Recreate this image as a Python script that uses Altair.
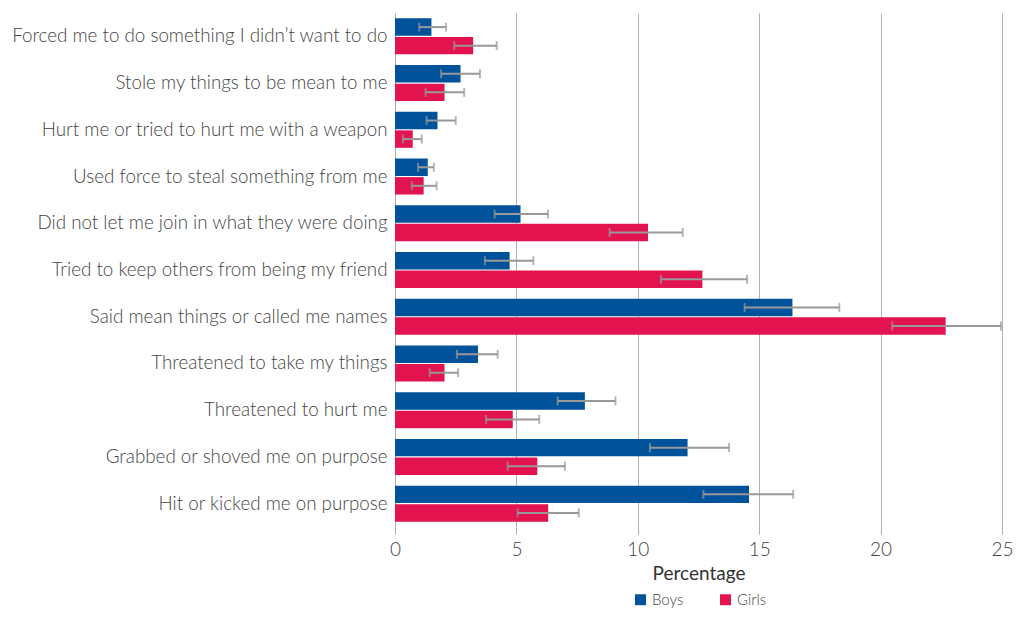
import altair as alt
import pandas as pd

categories = [
    "Forced me to do something I didn’t want to do",
    "Stole my things to be mean to me",
    "Hurt me or tried to hurt me with a weapon",
    "Used force to steal something from me",
    "Did not let me join in what they were doing",
    "Tried to keep others from being my friend",
    "Said mean things or called me names",
    "Threatened to take my things",
    "Threatened to hurt me",
    "Grabbed or shoved me on purpose",
    "Hit or kicked me on purpose",
]
groups = ["Boys", "Girls"]

boys = [1.5, 2.7, 1.75, 1.35, 5.17, 4.72, 16.37, 3.42, 7.82, 12.05, 14.58]
boys_lo = [1.0, 1.9, 1.3, 0.95, 4.1, 3.7, 14.4, 2.55, 6.7, 10.5, 12.7]
boys_hi = [2.1, 3.5, 2.5, 1.6, 6.3, 5.7, 18.3, 4.23, 9.08, 13.76, 16.4]

girls = [3.22, 2.04, 0.73, 1.18, 10.42, 12.66, 22.68, 2.04, 4.85, 5.86, 6.31]
girls_lo = [2.44, 1.26, 0.33, 0.69, 8.84, 10.95, 20.48, 1.43, 3.75, 4.64, 5.05]
girls_hi = [4.19, 2.85, 1.1, 1.71, 11.85, 14.5, 24.96, 2.6, 5.94, 7.0, 7.57]

rows = []
for i, c in enumerate(categories):
    rows.append({"cat": c, "group": "Boys", "value": boys[i], "lo": boys_lo[i], "hi": boys_hi[i]})
    rows.append({"cat": c, "group": "Girls", "value": girls[i], "lo": girls_lo[i], "hi": girls_hi[i]})
df = pd.DataFrame(rows)

FONT = "Lato"
y_enc = alt.Y(
    "cat:N",
    sort=categories,
    scale=alt.Scale(paddingInner=0.23, paddingOuter=0.115),
    axis=alt.Axis(
        title=None, ticks=False, labelFontSize=18.8, labelColor="#444444",
        labelPadding=8, labelLimit=380, minExtent=387, maxExtent=387,
        domainColor="#aaaaaa", labelFont=FONT, labelFontWeight=300,
    ),
)
yoff = alt.YOffset("group:N", sort=groups, scale=alt.Scale(paddingInner=0.06))
x_scale = alt.Scale(domain=[0, 25], nice=False)

bars = alt.Chart(df).mark_bar().encode(
    y=y_enc,
    yOffset=yoff,
    x=alt.X(
        "value:Q",
        scale=x_scale,
        axis=alt.Axis(
            values=[0, 5, 10, 15, 20, 25], title="Percentage", grid=True,
            gridColor="#b0b0b0", tickColor="#b0b0b0", tickSize=7, domain=False,
            labelFlush=False,
            labelFontSize=19, labelColor="#444444", labelPadding=6,
            titleFontSize=19, titleColor="#333333", titlePadding=5,
            labelFont=FONT, titleFont=FONT, labelFontWeight=300, titleFontWeight=400,
        ),
    ),
    color=alt.Color(
        "group:N",
        sort=groups,
        scale=alt.Scale(domain=groups, range=["#00529B", "#E2134F"]),
        legend=alt.Legend(
            title=None, orient="none", direction="horizontal", legendX=238, legendY=579,
            symbolType="square", symbolSize=120, symbolStrokeWidth=0,
            labelFontSize=15, labelColor="#444444", labelFont=FONT, labelFontWeight=300,
            columnPadding=34, labelOffset=4,
        ),
    ),
)

err = alt.Chart(df).mark_rule(color="#999999", strokeWidth=2).encode(
    y=alt.Y("cat:N", sort=categories),
    yOffset=yoff,
    x=alt.X("lo:Q", scale=x_scale),
    x2="hi:Q",
)
cap_lo = alt.Chart(df).mark_tick(color="#999999", thickness=2, size=9).encode(
    y=alt.Y("cat:N", sort=categories),
    yOffset=yoff,
    x=alt.X("lo:Q", scale=x_scale),
)
cap_hi = alt.Chart(df).mark_tick(color="#999999", thickness=2, size=9).encode(
    y=alt.Y("cat:N", sort=categories),
    yOffset=yoff,
    x=alt.X("hi:Q", scale=x_scale),
)

chart = alt.layer(bars, err, cap_lo, cap_hi).properties(
    width=607, height=514,
    padding={"left": 0, "top": 5, "right": 0, "bottom": 0},
).configure(font=FONT).configure_view(stroke=None)

chart.save("out.html", embed_options={"renderer": "svg", "actions": False})
